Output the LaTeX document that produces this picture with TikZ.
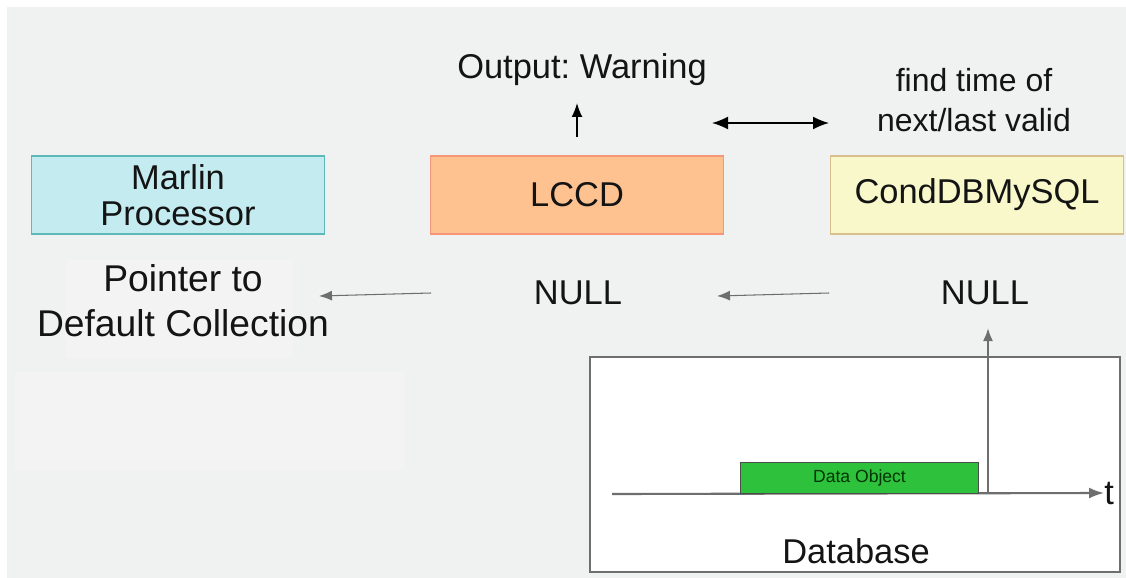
\documentclass[tikz,border=0pt]{standalone}
\usepackage{fontspec}
\setmainfont{Liberation Sans}
\usetikzlibrary{arrows.meta}
\usetikzlibrary{positioning}
\frenchspacing

\definecolor{bgcol}{HTML}{F0F1F1}
\definecolor{patchcol}{HTML}{F3F3F3}
\definecolor{marlinfill}{HTML}{C3EBF0}
\definecolor{marlinline}{HTML}{5DB9B9}
\definecolor{lccdfill}{HTML}{FEC290}
\definecolor{lccdline}{HTML}{F5957A}
\definecolor{condfill}{HTML}{F8F8CA}
\definecolor{condline}{HTML}{D9BE8E}
\definecolor{greenfill}{HTML}{2EC23C}
\definecolor{greytext}{HTML}{141414}
\definecolor{arrowgrey}{HTML}{6E6E6E}

\tikzset{
	mainfont/.style={font=\fontsize{19.6}{21}\selectfont, text=greytext},
	classbox/.style={mainfont, draw, line width=0.8pt, minimum width=5.86cm,
		minimum height=1.56cm, align=center, inner sep=0pt},
	plaintext/.style={mainfont, align=center, inner sep=1pt},
	flow/.style={-{Latex[length=2.6mm,width=2mm]}, arrowgrey, line width=0.6pt},
	call/.style={-{Latex[length=2.8mm,width=2.2mm]}, black, line width=0.9pt},
}

\begin{document}
\begin{tikzpicture}[x=0.02cm, y=-0.02cm]
	\useasboundingbox (0,0) rectangle (1126,578);
	%Background of the slide
	\fill[bgcol] (7,7) rectangle (1126,578);
	\fill[patchcol] (66,260) rectangle (293,358);
	\fill[patchcol] (15,372) rectangle (405,470);

	%Boxes of the classes
	\node[classbox, fill=marlinfill, draw=marlinline, text depth=0pt] (marlin) at (178,195)
		{\fontsize{19.6}{37pt}\selectfont Marlin\\Processor};
	\node[classbox, fill=lccdfill, draw=lccdline] (lccd) at (577,195) {LCCD};
	\node[classbox, fill=condfill, draw=condline] (conddb) at (977,195) {CondDBMySQL};

	%Texts above the boxes
	\node[plaintext] (output) at (582,70) {Output: Warning};
	\node[plaintext, font=\fontsize{18.2}{22.5}\selectfont] (findtime) at (974,100)
		{find time of\\next/last valid};

	%Return values
	\node[plaintext, font=\fontsize{21.2}{25.5}\selectfont] (pointer) at (183,301)
		{Pointer to\\Default Collection};
	\node[plaintext] (nulla) at (578,293) {NULL};
	\node[plaintext] (nullb) at (985,293) {NULL};

	%Connectors at the top
	\coordinate (warnfoot) at (577,137);
	\coordinate (warnhead) at (577,103);
	\draw[call] (warnfoot) -- (warnhead);
	\coordinate (askleft) at (712,123);
	\coordinate (askright) at (829,123);
	\draw[call, {Latex[length=3.2mm,width=2.6mm]}-{Latex[length=3.2mm,width=2.6mm]}] (askleft) -- (askright);

	%Connectors between the return values
	\coordinate (nullbstart) at (829,293);
	\coordinate (nullaend) at (717,296);
	\draw[flow] (nullbstart) -- (nullaend);
	\coordinate (nullastart) at (431,293);
	\coordinate (pointerend) at (319,296);
	\draw[flow] (nullastart) -- (pointerend);

	%Database with the time axis
	\node[draw=arrowgrey, fill=white, line width=0.8pt, minimum width=10.6cm,
		minimum height=4.3cm, inner sep=0pt] (database) at (855,464.5) {};
	\node[mainfont, anchor=base] (dblabel) at (856,563) {Database};
	\coordinate (axisstart) at (612,494);
	\node[mainfont, anchor=west, inner sep=0pt] (tlabel) at (1104,493) {t};
	\draw[-{Latex[length=3mm,width=2.2mm]}, arrowgrey, line width=1.2pt] (axisstart) -- (tlabel.west);
	%Data object on the axis
	\node[draw=black!70, fill=greenfill, line width=0.6pt, minimum width=4.76cm,
		minimum height=0.62cm, inner sep=0pt, anchor=south west,
		font=\fontsize{10}{12}\selectfont, text=green!20!black] (dataobj) at (740,494) {Data Object};
	%Lookup of the next valid time
	\coordinate (lookupfoot) at (988,494);
	\coordinate (lookuphead) at (988,328);
	\draw[flow, line width=1.2pt] (lookupfoot) -- (lookuphead);
\end{tikzpicture}
\end{document}
